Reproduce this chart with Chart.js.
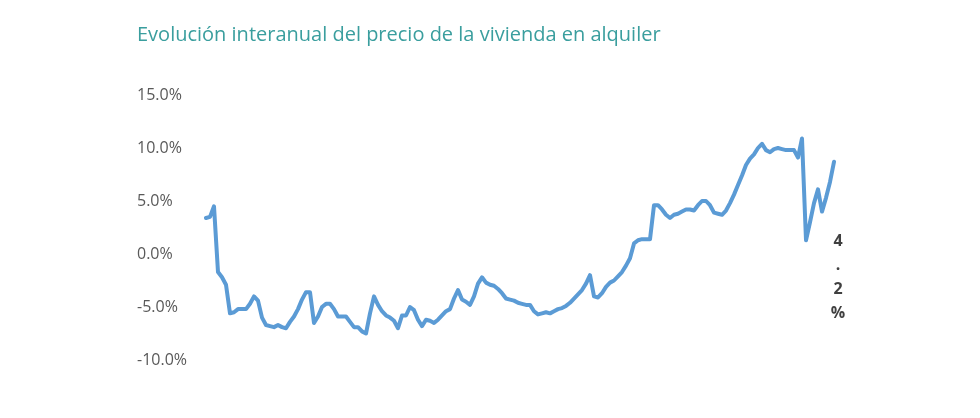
<!DOCTYPE html>
<html>
<head>
<meta charset="utf-8">
<script src="https://cdn.jsdelivr.net/npm/chart.js@4/dist/chart.umd.min.js"></script>
<style>
  html, body { margin: 0; padding: 0; background: #ffffff; }
  #wrap { width: 980px; height: 418px; position: relative; }
</style>
</head>
<body>
<div id="wrap"><canvas id="c"></canvas></div>
<script>
// ---- Data ----
const titleText = 'Evolución interanual del precio de la vivienda en alquiler';
const yTicks = [-10, -5, 0, 5, 10, 15];
const lastLabel = '4.2%';
const rentYoY = [
  3.4, 3.5, 4.5, -1.7, -2.2, -2.9, -5.6, -5.5, -5.2, -5.2,
  -5.2, -4.7, -4.0, -4.4, -6.0, -6.7, -6.8, -6.9, -6.7, -6.9,
  -7.0, -6.4, -5.9, -5.2, -4.3, -3.6, -3.6, -6.5, -5.9, -5.0,
  -4.7, -4.7, -5.2, -5.9, -5.9, -5.9, -6.4, -6.9, -6.9, -7.3,
  -7.5, -5.6, -4.0, -4.8, -5.4, -5.8, -6.0, -6.3, -7.0, -5.8,
  -5.8, -5.0, -5.3, -6.2, -6.8, -6.2, -6.3, -6.5, -6.2, -5.8,
  -5.4, -5.2, -4.2, -3.4, -4.3, -4.5, -4.8, -4.0, -2.8, -2.2,
  -2.7, -2.9, -3.0, -3.3, -3.7, -4.2, -4.3, -4.4, -4.6, -4.7,
  -4.8, -4.8, -5.4, -5.7, -5.6, -5.5, -5.6, -5.4, -5.2, -5.1,
  -4.9, -4.6, -4.2, -3.8, -3.4, -2.8, -2.0, -4.0, -4.1, -3.7,
  -3.1, -2.7, -2.5, -2.1, -1.7, -1.1, -0.4, 1.0, 1.3, 1.4,
  1.4, 1.4, 4.6, 4.6, 4.2, 3.7, 3.4, 3.7, 3.8, 4.0,
  4.2, 4.2, 4.1, 4.6, 5.0, 5.0, 4.6, 3.9, 3.8, 3.7,
  4.1, 4.8, 5.6, 6.5, 7.4, 8.4, 9.0, 9.4, 10.0, 10.4,
  9.8, 9.6, 9.9, 10.0, 9.9, 9.8, 9.8, 9.8, 9.1, 10.9,
  1.3, 3.0, 4.8, 6.1, 4.0, 5.3, 6.8, 8.7
];
const periods = rentYoY.map((_, i) => 'P' + (i + 1));

// ---- Plugin: vertical stacked data label ----
const stackedLabel = {
  id: 'stackedLabel',
  afterDatasetsDraw(chart) {
    const ctx = chart.ctx;
    const x = chart.chartArea.right + 4;
    const y0 = chart.scales.y.getPixelForValue(1.2);
    ctx.save();
    ctx.font = 'bold 16px "Open Sans", sans-serif';
    ctx.fillStyle = '#404040';
    ctx.textAlign = 'center';
    ctx.textBaseline = 'middle';
    lastLabel.split('').forEach((ch, i) => {
      ctx.fillText(ch, x, y0 + i * 24);
    });
    ctx.restore();
  }
};

new Chart(document.getElementById('c'), {
  type: 'line',
  data: {
    labels: periods,
    datasets: [{
      data: rentYoY,
      borderColor: '#5b9bd5',
      borderWidth: 4,
      pointRadius: 0,
      tension: 0,
      fill: false,
      borderJoinStyle: 'round',
      borderCapStyle: 'round'
    }]
  },
  options: {
    responsive: true,
    maintainAspectRatio: false,
    animation: false,
    layout: { padding: { left: 137, right: 146, top: 0, bottom: 58 } },
    plugins: {
      legend: { display: false },
      tooltip: { enabled: false },
      title: {
        display: true,
        text: titleText,
        align: 'start',
        color: '#3a9e9e',
        font: { family: '"Open Sans", sans-serif', size: 20, weight: 'normal' },
        padding: { top: 23, bottom: 48 }
      }
    },
    scales: {
      x: { display: false, offset: false },
      y: {
        min: -10,
        max: 15,
        afterBuildTicks(scale) { scale.ticks = yTicks.map(v => ({ value: v })); },
        afterFit(scale) { scale.width = 69; },
        border: { display: false },
        grid: { display: false },
        ticks: {
          crossAlign: 'far',
          padding: 8,
          color: '#595959',
          font: { family: '"Open Sans", sans-serif', size: 16 },
          callback: v => v.toFixed(1) + '%'
        }
      }
    }
  },
  plugins: [stackedLabel]
});
</script>
</body>
</html>
